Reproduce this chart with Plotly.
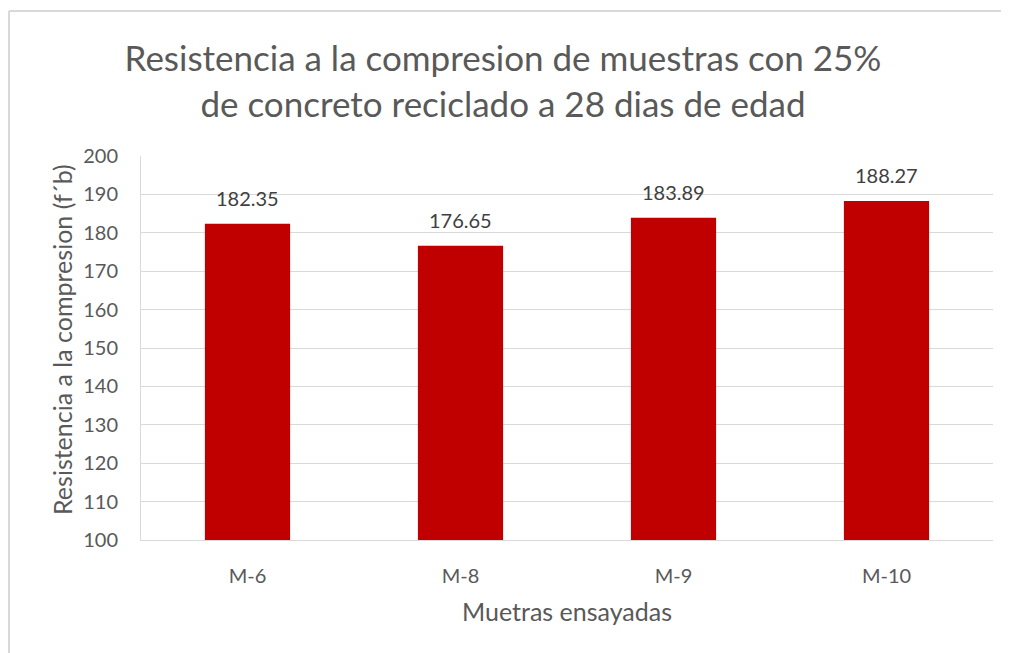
import plotly.graph_objects as go

categories = ["M-6", "M-8", "M-9", "M-10"]
values = [182.35, 176.65, 183.89, 188.27]
value_labels = ["182.35", "176.65", "183.89", "188.27"]
y_ticks = [100, 110, 120, 130, 140, 150, 160, 170, 180, 190, 200]

OFF = 8  # page body margin
W, H = 1009 - OFF, 653 - OFF
# plot area in reference pixels: x 141..993, y 156..540
L, R, T, B = 141 - OFF, 1009 - 993, 156 - OFF, 653 - 540
pw, ph = W - L - R, H - T - B

def px_x(x):
    return (x - OFF - L) / pw

def px_y(y):
    return (H - B - (y - OFF)) / ph

FONT = "Lato"
GRAY = "#595959"

fig = go.Figure()
fig.add_trace(go.Bar(
    x=categories, y=values, marker=dict(color="#C00000", line=dict(width=0)),
    width=0.4,
))

for c, v, t in zip(categories, values, value_labels):
    fig.add_annotation(x=c, y=v, text=t, showarrow=False, yshift=26, yanchor="middle",
                       font=dict(family=FONT, size=20, color="#404040"))

fig.add_annotation(xref="paper", yref="paper", x=px_x(567), y=px_y(611), text="Muetras ensayadas",
                   showarrow=False, xanchor="center", yanchor="middle",
                   font=dict(family=FONT, size=25, color=GRAY))
fig.add_annotation(xref="paper", yref="paper", x=px_x(62), y=px_y(340), text="Resistencia a la compresion (f´b)",
                   showarrow=False, xanchor="center", yanchor="middle", textangle=-90,
                   font=dict(family=FONT, size=25, color=GRAY))

fig.update_layout(
    width=W, height=H, margin=dict(l=L, r=R, t=T, b=B),
    paper_bgcolor="white", plot_bgcolor="white", showlegend=False,
    font=dict(family=FONT, color=GRAY),
    title=dict(text="Resistencia a la compresion de muestras con 25%<br>de concreto reciclado a 28 dias de edad",
               x=(503 - OFF) / W, xref="container", xanchor="center",
               y=1 - (71 - OFF) / H, yref="container", yanchor="middle",
               font=dict(family=FONT, size=35, color=GRAY)),
    xaxis=dict(showgrid=False, showline=True, linecolor="#d9d9d9", linewidth=1,
               ticks="", tickfont=dict(size=20, color=GRAY), ticklabelstandoff=18),
    yaxis=dict(range=[100, 200], tickvals=y_ticks, showgrid=True, gridcolor="#d9d9d9",
               gridwidth=1, showline=True, linecolor="#d9d9d9", zeroline=False,
               ticks="", tickfont=dict(size=20, color=GRAY), ticklabelstandoff=18),
    bargap=0.6,
)

fig.add_shape(type="line", xref="paper", yref="paper", x0=px_x(9), x1=px_x(1009), y0=px_y(11), y1=px_y(11),
              line=dict(color="#d9d9d9", width=2))
fig.add_shape(type="line", xref="paper", yref="paper", x0=px_x(9), x1=px_x(9), y0=px_y(11), y1=px_y(653),
              line=dict(color="#d9d9d9", width=2))

fig.write_html("out.html")
